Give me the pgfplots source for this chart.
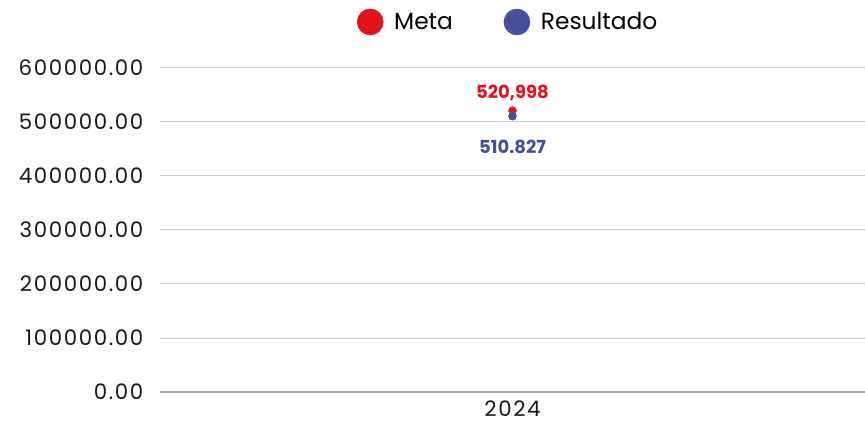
\documentclass[border=0pt]{standalone}
\usepackage{pgfplots}
\pgfplotsset{compat=1.18}
\usepackage{fontspec}
\setmainfont{Poppins}
\newfontfamily\tickfont[LetterSpace=7.5]{Poppins}
\definecolor{metared}{HTML}{E3131B}
\definecolor{resblue}{HTML}{44509C}
\definecolor{gridc}{HTML}{CCCCCC}
\definecolor{basec}{HTML}{A8A8A8}
\begin{document}
\begin{tikzpicture}
\begin{axis}[
  scale only axis,
  width=528.75pt, height=243pt,
  xmin=-1, xmax=1, ymin=0, ymax=600000,
  xtick={0}, xticklabels={2024},
  ytick={0,100000,200000,300000,400000,500000,600000},
  axis line style={draw=none},
  ymajorgrids, grid style={gridc, line width=0.75pt},
  major tick length=0pt,
  /pgf/number format/assume math mode=true,
  /pgf/number format/.cd, fixed, fixed zerofill, precision=2, 1000 sep={}, /pgfplots/.cd,
  yticklabel style={font=\tickfont\fontsize{16}{18}\selectfont, color=black!90, xshift=-9pt},
  xticklabel style={font=\tickfont\fontsize{16}{18}\selectfont, color=black!90, yshift=-3pt},
  scaled y ticks=false,
  clip=false,
  legend columns=2,
  legend style={draw=none, at={(0.50,1.142)}, anchor=center, font=\fontsize{17.5}{20}\selectfont,
    /tikz/every even column/.append style={column sep=30pt},
    nodes={inner xsep=8pt}},
  legend cell align=left,
]
\draw[basec, line width=0.9pt] (rel axis cs:0,0) -- (rel axis cs:1,0);
\coordinate (SW) at (rel axis cs:0,0);
\coordinate (NE) at (rel axis cs:1,1);
\addplot[only marks, mark=*, mark size=3pt, color=metared,
  legend image code/.code={\fill (0.3em,0) circle (9.75pt);},
  nodes near coords={\bfseries 520,998},
  every node near coord/.append style={anchor=center, yshift=13pt, font=\fontsize{13.5}{15}\selectfont, color=metared}]
  coordinates {(0,520998)};
\addlegendentry{Meta}
\addplot[only marks, mark=*, mark size=3pt, color=resblue,
  legend image code/.code={\fill (0.3em,0) circle (9.75pt);},
  nodes near coords={\bfseries 510.827},
  every node near coord/.append style={anchor=center, yshift=-23pt, font=\fontsize{13.5}{15}\selectfont, color=resblue}]
  coordinates {(0,510827)};
\addlegendentry{Resultado}
\end{axis}
\pgfresetboundingbox
\path ([shift={(-120pt,-24pt)}]SW) rectangle ([shift={(0pt,51pt)}]NE);
\end{tikzpicture}
\end{document}
